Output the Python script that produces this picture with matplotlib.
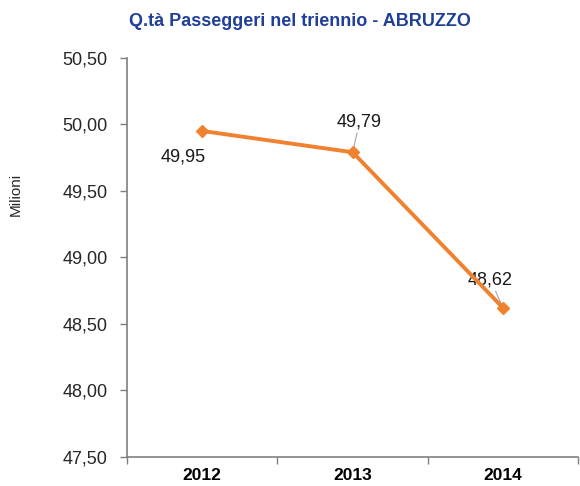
import matplotlib.pyplot as plt
from matplotlib.ticker import FuncFormatter

plt.rcParams['font.family'] = ['Liberation Sans', 'DejaVu Sans']

years = ['2012', '2013', '2014']
values = [49.95, 49.79, 48.62]
labels = ['49,95', '49,79', '48,62']
# label offsets in points (dx, dy) relative to each point, and whether to draw a leader line
offsets = [(-14, -19), (5, 22), (-9, 20)]
leaders = [False, True, True]

fig = plt.figure(figsize=(5.8, 4.86), dpi=100)
ax = fig.add_axes([0.219, 0.06, 0.778, 0.821])

x = list(range(len(years)))
ax.plot(x, values, color='#F0822F', linewidth=2.8, marker='D', markersize=6.5,
        markeredgecolor='#F0822F', zorder=3)

for xi, v, lab, off, lead in zip(x, values, labels, offsets, leaders):
    arrow = dict(arrowstyle='-', color='#A6A6A6', lw=0.8, shrinkA=0, shrinkB=2) if lead else None
    ax.annotate(lab, xy=(xi, v), xytext=off, textcoords='offset points',
                ha='center', va='center', fontsize=13, color='#1a1a1a',
                arrowprops=arrow, zorder=2)

ax.set_xlim(-0.5, 2.5)
ax.set_ylim(47.5, 50.5)
ax.set_yticks([47.5, 48.0, 48.5, 49.0, 49.5, 50.0, 50.5])
ax.yaxis.set_major_formatter(FuncFormatter(lambda v, p: f'{v:.2f}'.replace('.', ',')))

ax.set_xticks(x)
ax.set_xticklabels(years, fontweight='bold', fontsize=12.5)
ax.set_xticks([-0.5, 0.5, 1.5, 2.5], minor=True)
ax.tick_params(axis='x', which='major', length=0, pad=8)
ax.tick_params(axis='x', which='minor', length=5, color='#808080', width=1)
ax.tick_params(axis='y', length=5, color='#808080', width=1, labelsize=13, pad=9,
               labelcolor='#262626')

for s in ['top', 'right']:
    ax.spines[s].set_visible(False)
for s in ['left', 'bottom']:
    ax.spines[s].set_color('#808080')
    ax.spines[s].set_linewidth(1.2)

ax.set_ylabel('Milioni', fontsize=11, color='#262626')
ax.yaxis.set_label_coords(-0.232, 0.657)
fig.text(0.517, 0.955, 'Q.tà Passeggeri nel triennio - ABRUZZO', ha='center', va='center',
         fontsize=13, fontweight='bold', color='#1F3F99')

fig.savefig('out.png', dpi=100)
